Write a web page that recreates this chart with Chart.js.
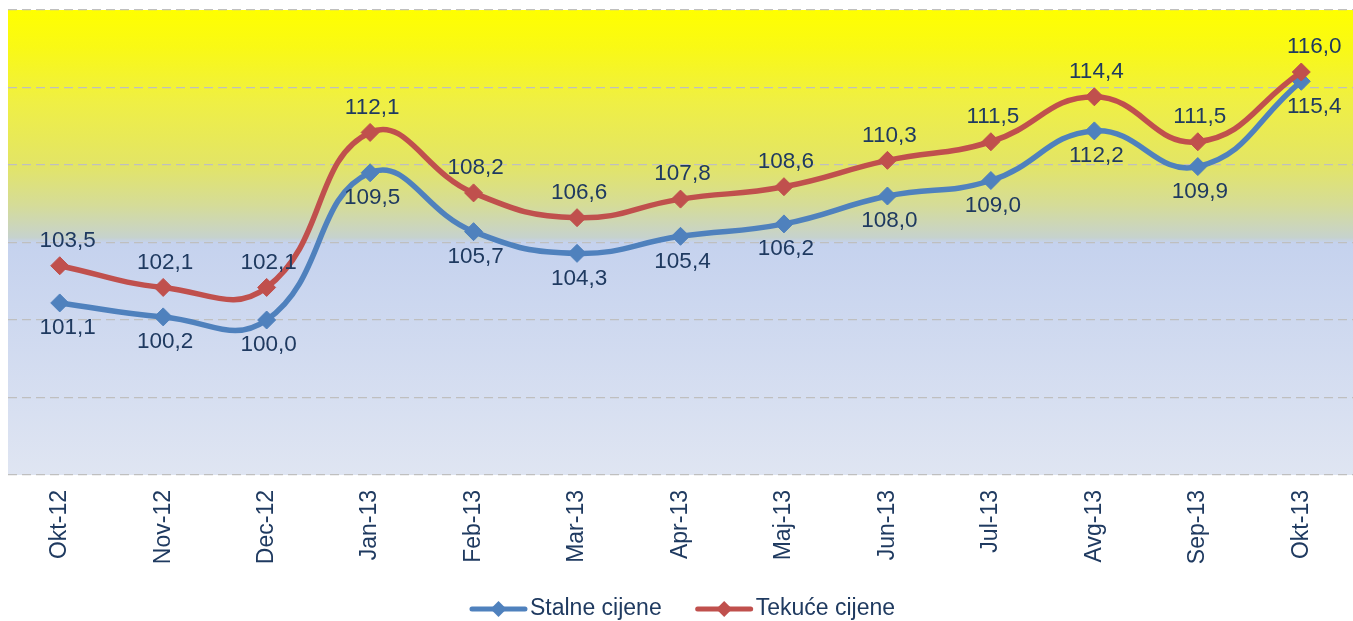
<!DOCTYPE html>
<html>
<head>
<meta charset="utf-8">
<title>Stalne i tekuće cijene</title>
<script src="https://cdn.jsdelivr.net/npm/chart.js@4/dist/chart.umd.min.js"></script>
<style>
    html, body { margin: 0; padding: 0; background: #fff; overflow: hidden; }
    #chart-box { width: 1353px; height: 621px; }
</style>
</head>
<body>
<div id="chart-box"><canvas id="indexChart"></canvas></div>
<script>
"use strict";

const months = ["Okt-12", "Nov-12", "Dec-12", "Jan-13", "Feb-13", "Mar-13", "Apr-13",
    "Maj-13", "Jun-13", "Jul-13", "Avg-13", "Sep-13", "Okt-13"];

const stalneCijene = [101.1, 100.2, 100.0, 109.5, 105.7, 104.3, 105.4, 106.2, 108.0, 109.0, 112.2, 109.9, 115.4];
const tekuceCijene = [103.5, 102.1, 102.1, 112.1, 108.2, 106.6, 107.8, 108.6, 110.3, 111.5, 114.4, 111.5, 116.0];

const textColor = "#1F3A60";
const fontFamily = "'Liberation Sans', Arial, sans-serif";

(() => {

    function formatValue(v) {
        return v.toFixed(1).replace(".", ",");
    }

    // yellow-to-blue fill behind the plot area
    const plotBackground = {
        id: "plotBackground",
        beforeDraw(chart) {
            const {ctx, chartArea} = chart;
            const g = ctx.createLinearGradient(0, chartArea.top, 0, chartArea.bottom);
            g.addColorStop(0, "#FFFF00");
            g.addColorStop(0.08, "#F9F915");
            g.addColorStop(0.2, "#EFEF45");
            g.addColorStop(0.33, "#E3E565");
            g.addColorStop(0.42, "#D5DC98");
            g.addColorStop(0.49, "#C6D2CE");
            g.addColorStop(0.5, "#C5D2EE");
            g.addColorStop(1, "#DFE5F2");
            ctx.save();
            ctx.fillStyle = g;
            ctx.fillRect(chartArea.left, chartArea.top, chartArea.right - chartArea.left, chartArea.bottom - chartArea.top);
            ctx.restore();
        }
    };

    const valueLabels = {
        id: "valueLabels",
        afterDatasetsDraw(chart) {
            const ctx = chart.ctx;
            ctx.save();
            ctx.font = "22.5px " + fontFamily;
            ctx.fillStyle = textColor;
            ctx.textAlign = "center";
            ctx.textBaseline = "middle";
            chart.data.datasets.forEach((ds, i) => {
                let meta = chart.getDatasetMeta(i);
                meta.data.forEach((pt, j) => {
                    let dx = 2;
                    if (j === 0) dx = 8;
                    if (j === meta.data.length - 1) dx = 13;
                    ctx.fillText(formatValue(ds.data[j]), pt.x + dx, pt.y + ds.labelOffset);
                });
            });
            ctx.restore();
        }
    };

    // legend drawn by hand: line with a diamond, then the text
    const lineLegend = {
        id: "lineLegend",
        afterDraw(chart) {
            const ctx = chart.ctx;
            const lineLen = 57;
            const gap = 34;
            const y = 609;
            ctx.save();
            ctx.font = "23px " + fontFamily;
            ctx.textBaseline = "middle";
            const items = chart.data.datasets.map((ds) => {
                return {ds: ds, w: lineLen + 3 + ctx.measureText(ds.label).width};
            });
            let total = items.reduce((s, it) => s + it.w, 0) + gap * (items.length - 1);
            let x = (chart.chartArea.left + chart.chartArea.right) / 2 - total / 2 + 2;
            items.forEach((it) => {
                ctx.strokeStyle = it.ds.borderColor;
                ctx.lineWidth = 5;
                ctx.lineCap = "round";
                ctx.beginPath();
                ctx.moveTo(x + 2, y);
                ctx.lineTo(x + lineLen - 2, y);
                ctx.stroke();
                let cx = x + lineLen / 2;
                ctx.fillStyle = it.ds.borderColor;
                ctx.beginPath();
                ctx.moveTo(cx, y - 8);
                ctx.lineTo(cx + 8, y);
                ctx.lineTo(cx, y + 8);
                ctx.lineTo(cx - 8, y);
                ctx.closePath();
                ctx.fill();
                ctx.fillStyle = textColor;
                ctx.textAlign = "left";
                ctx.fillText(it.ds.label, x + lineLen + 3, y);
                x += it.w + gap;
            });
            ctx.restore();
        }
    };

    const ctx = document.getElementById("indexChart");

    new Chart(ctx, {
        type: "line",
        data: {
            labels: months,
            datasets: [{
                label: "Stalne cijene",
                data: stalneCijene,
                borderColor: "#4F81BD",
                backgroundColor: "#4F81BD",
                pointBackgroundColor: "#4F81BD",
                pointBorderColor: "#4F81BD",
                labelOffset: 25,
                order: 1
            }, {
                label: "Tekuće cijene",
                data: tekuceCijene,
                borderColor: "#C0504D",
                backgroundColor: "#C0504D",
                pointBackgroundColor: "#C0504D",
                pointBorderColor: "#C0504D",
                labelOffset: -25,
                order: 0
            }]
        },
        options: {
            responsive: true,
            maintainAspectRatio: false,
            animation: false,
            layout: {
                autoPadding: false,
                padding: {left: 8, right: 0, top: 10, bottom: 50}
            },
            elements: {
                line: {borderWidth: 5.5, tension: 0.45, fill: false},
                point: {pointStyle: "rectRot", radius: 9, borderWidth: 1, hoverRadius: 9}
            },
            plugins: {
                legend: {display: false},
                tooltip: {enabled: false}
            },
            scales: {
                x: {
                    offset: true,
                    grid: {display: false, drawTicks: false},
                    border: {display: false},
                    ticks: {
                        minRotation: 90,
                        maxRotation: 90,
                        padding: 15,
                        color: textColor,
                        font: {family: fontFamily, size: 23}
                    },
                    afterFit(scale) {
                        scale.height = 96;
                        scale.paddingLeft = 0;
                        scale.paddingRight = 0;
                    }
                },
                y: {
                    min: 90,
                    max: 120,
                    grid: {color: "#BFBFBF", lineWidth: 1.3, drawTicks: false},
                    border: {display: false, dash: [9, 5]},
                    ticks: {display: false, stepSize: 5},
                    afterFit(scale) {
                        scale.width = 0;
                    }
                }
            }
        },
        plugins: [plotBackground, valueLabels, lineLegend]
    });

})();
</script>
</body>
</html>
